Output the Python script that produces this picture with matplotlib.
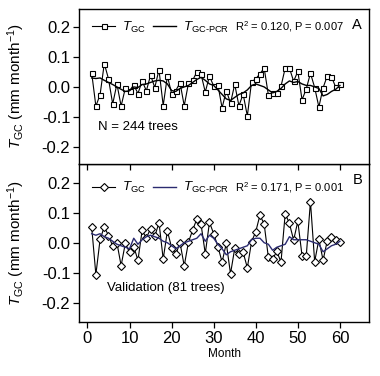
import matplotlib
matplotlib.use("Agg")
import matplotlib.pyplot as plt
import numpy as np

plt.rcParams['font.family'] = ['Liberation Sans', 'DejaVu Sans']
plt.rcParams['mathtext.fontset'] = 'custom'
plt.rcParams['mathtext.rm'] = 'Liberation Sans'
plt.rcParams['mathtext.it'] = 'Liberation Sans:italic'
plt.rcParams['axes.unicode_minus'] = False

months = list(range(1, 61))

tgc_a = [0.047, -0.064, -0.026, 0.078, 0.027, -0.057, 0.010, -0.064, -0.004, -0.013,
         0.007, -0.022, 0.020, -0.013, 0.039, -0.002, 0.057, -0.062, 0.036, -0.022,
         -0.012, 0.014, -0.063, 0.012, 0.022, 0.050, 0.042, -0.017, 0.036, 0.003,
         0.007, -0.070, -0.012, -0.054, 0.009, -0.063, -0.024, -0.097, 0.017, 0.027,
         0.044, 0.063, -0.027, -0.020, -0.020, 0.002, 0.063, 0.063, 0.019, 0.052,
         -0.043, -0.007, 0.046, -0.002, -0.067, -0.003, 0.037, 0.034, -0.001, 0.010]
pcr_a = [0.030, 0.028, 0.030, 0.022, 0.015, 0.008, 0.000, -0.008, -0.015, -0.013,
         0.000, -0.002, 0.008, 0.010, 0.015, 0.020, 0.022, 0.020, 0.010, -0.012,
         -0.015, -0.005, 0.000, 0.005, 0.015, 0.025, 0.032, 0.022, 0.010, 0.005,
         -0.010, -0.025, -0.040, -0.045, -0.035, -0.025, -0.020, -0.010, 0.005, 0.010,
         0.005, 0.000, -0.010, -0.020, -0.015, -0.005, 0.010, 0.020, 0.015, 0.018,
         0.010, 0.005, 0.005, 0.000, -0.005, -0.030, -0.025, -0.015, -0.008, 0.005]

tgc_b = [0.053, -0.106, 0.011, 0.053, 0.024, -0.011, 0.000, -0.076, -0.002, -0.032,
         -0.013, -0.058, 0.041, 0.016, 0.047, 0.021, 0.067, -0.054, 0.039, -0.016,
         -0.038, 0.000, -0.077, 0.002, 0.042, 0.079, 0.061, -0.036, 0.068, 0.030,
         -0.013, -0.064, -0.002, -0.103, -0.019, -0.038, -0.032, -0.083, 0.003, 0.037,
         0.092, 0.062, -0.049, -0.054, -0.029, -0.064, 0.097, 0.064, 0.009, 0.071,
         -0.043, -0.044, 0.137, -0.063, 0.011, -0.058, 0.007, 0.020, 0.010, 0.002]
pcr_b = [0.030, 0.025, 0.030, 0.020, 0.015, 0.005, -0.005, -0.010, -0.015, -0.020,
         0.015, -0.005, 0.010, 0.020, 0.025, 0.020, 0.015, 0.005, 0.000, -0.010,
         -0.020, -0.010, 0.000, 0.005, 0.010, 0.015, 0.030, 0.005, 0.025, 0.015,
         -0.005, -0.020, -0.040, -0.030, -0.025, -0.020, -0.015, -0.010, 0.010, 0.015,
         0.015, 0.000, -0.005, -0.025, -0.015, -0.010, -0.005, 0.020, 0.010, 0.010,
         0.010, 0.010, 0.005, 0.000, -0.005, -0.030, -0.020, -0.010, -0.005, 0.005]

yticks = [-0.2, -0.1, 0.0, 0.1, 0.2]
ytick_labels = ['-0.2', '-0.1', '0.0', '0.1', '0.2']
xticks = [0, 10, 20, 30, 40, 50, 60]

fig = plt.figure(figsize=(3.8, 3.76), dpi=100)
ax1 = fig.add_axes([0.208, 0.564, 0.764, 0.412])
ax2 = fig.add_axes([0.208, 0.144, 0.764, 0.420])
ax1.set_zorder(2)

ylab = r'$\mathit{T}_{\mathrm{GC}}$ (mm month$^{-1}$)'

panels = [
    (ax1, tgc_a, pcr_a, 's', 3.6, 'black', 'R$^2$ = 0.120, P = 0.007', 'A',
     'N = 244 trees', (2.5, -0.133), (-0.257, 0.26), 0.884),
    (ax2, tgc_b, pcr_b, 'D', 4.4, '#2b2b70', 'R$^2$ = 0.171, P = 0.001', 'B',
     'Validation (81 trees)', (4.7, -0.151), (-0.263, 0.262), 0.848),
]

for ax, tgc, pcr, mk, ms, pcol, stat, letter, note, npos, ylim, ly in panels:
    l1, = ax.plot(months, tgc, color='black', lw=0.8, marker=mk, ms=ms,
                  mfc='white', mec='black', mew=0.8, zorder=3)
    l2, = ax.plot(months, pcr, color=pcol, lw=1.0, zorder=4)
    ax.set_xlim(-2, 67)
    ax.set_ylim(*ylim)
    ax.set_yticks(yticks)
    ax.set_yticklabels(ytick_labels)
    ax.set_xticks(xticks)
    ax.tick_params(direction='out', length=4.3, width=0.9, labelsize=12, pad=2)
    for s in ax.spines.values():
        s.set_linewidth(1.0)
    ax.set_ylabel(ylab, fontsize=11)
    ax.yaxis.set_label_coords(-0.178, 0.5)
    ax.legend([l1, l2], [r'$\mathit{T}_{\mathrm{GC}}$', r'$\mathit{T}_{\mathrm{GC\text{-}PCR}}$'],
              loc='center left', bbox_to_anchor=(0.045, ly), ncol=2,
              frameon=False, fontsize=9.5, handlelength=1.75,
              handletextpad=0.5, columnspacing=0.6, borderpad=0,
              borderaxespad=0)
    ax.text(0.537, ly + 0.005, stat, transform=ax.transAxes, fontsize=8,
            va='center', ha='left')
    ax.text(0.975, 0.897, letter, transform=ax.transAxes, fontsize=10.5,
            va='center', ha='right')
    ax.text(npos[0], npos[1], note, fontsize=9.5, va='center', ha='left')

ax1.tick_params(labelbottom=False)
ax2.set_xlabel('Month', fontsize=8.5, labelpad=2)

fig.savefig('out.png', dpi=100)
